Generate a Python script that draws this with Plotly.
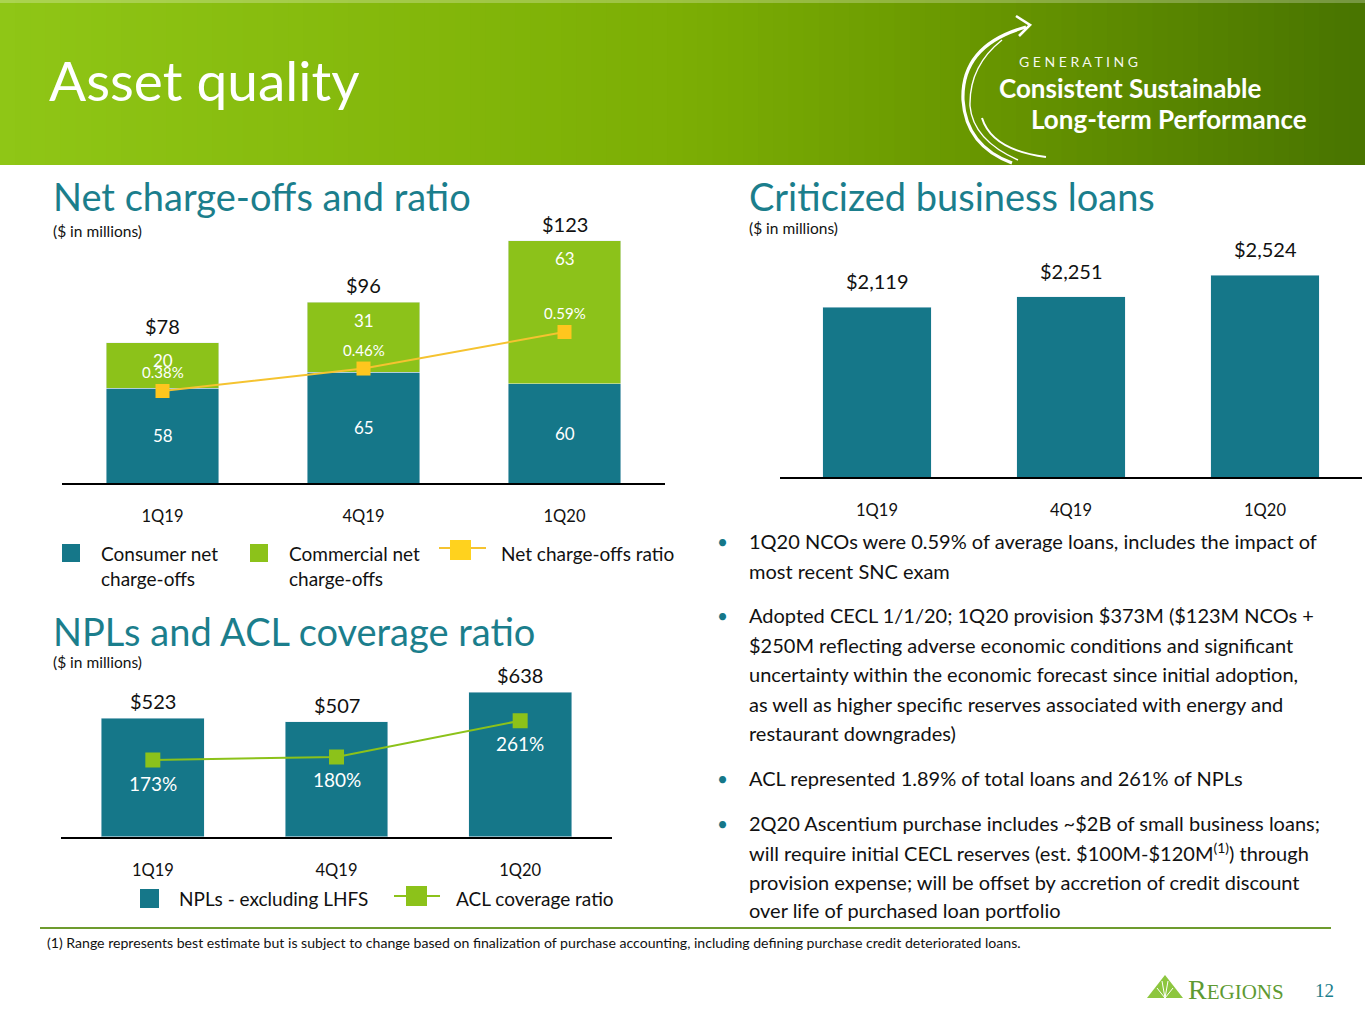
import plotly.graph_objects as go

W, H = 1365, 1024

# --- DATA ---
QUARTERS = ["1Q19", "4Q19", "1Q20"]
consumer_nco = [58, 65, 60]
commercial_nco = [20, 31, 63]
total_nco = [78, 96, 123]
nco_ratio = [0.38, 0.46, 0.59]
criticized_loans = [2119, 2251, 2524]
npls_ex_lhfs = [523, 507, 638]
acl_coverage = [173, 180, 261]

BULLETS = [
    ["1Q20 NCOs were 0.59% of average loans, includes the impact of",
     "most recent SNC exam"],
    ["Adopted CECL 1/1/20; 1Q20 provision $373M ($123M NCOs +",
     "$250M reflecting adverse economic conditions and significant",
     "uncertainty within the economic forecast since initial adoption,",
     "as well as higher specific reserves associated with energy and",
     "restaurant downgrades)"],
    ["ACL represented 1.89% of total loans and 261% of NPLs"],
    ["2Q20 Ascentium purchase includes ~$2B of small business loans;",
     "will require initial CECL reserves (est. $100M-$120M<sup>(1)</sup>) through",
     "provision expense; will be offset by accretion of credit discount",
     "over life of purchased loan portfolio"],
]
FOOTNOTE = ("(1) Range represents best estimate but is subject to change based on "
            "finalization of purchase accounting, including defining purchase credit deteriorated loans.")

# --- STYLE ---
TEAL = "#157789"
LIME = "#8CC21A"
YELLOW = "#FFC61E"
TITLE_TEAL = "#1B7E8C"
FONT = "Lato"
SERIF = "Liberation Serif"


def px(x):
    return x / W


def py(y):
    return 1 - y / H


def path(points, close=False):
    # points in pixel coords: ("M", x, y) / ("L", x, y) / ("Q", cx, cy, x, y)
    out = []
    for p in points:
        cmd, vals = p[0], p[1:]
        coords = []
        for i in range(0, len(vals), 2):
            coords.append(f"{px(vals[i]):.5f},{py(vals[i + 1]):.5f}")
        out.append(cmd + " " + " ".join(coords))
    s = " ".join(out)
    return s + " Z" if close else s


fig = go.Figure()

# --- 1. Net charge-offs ---
fig.add_trace(go.Bar(x=QUARTERS, y=consumer_nco, marker_color=TEAL, width=0.56,
                     xaxis="x", yaxis="y", showlegend=False, hoverinfo="skip"))
fig.add_trace(go.Bar(x=QUARTERS, y=commercial_nco, marker_color=LIME, width=0.56,
                     xaxis="x", yaxis="y", showlegend=False, hoverinfo="skip"))
fig.add_trace(go.Scatter(x=QUARTERS, y=nco_ratio, mode="lines+markers",
                         line=dict(color="#F5C330", width=2),
                         marker=dict(symbol="square", size=14, color=YELLOW),
                         xaxis="x", yaxis="y2", showlegend=False, hoverinfo="skip"))

# --- 2. Criticized business loans ---
fig.add_trace(go.Bar(x=QUARTERS, y=criticized_loans, marker_color=TEAL, width=0.56,
                     xaxis="x2", yaxis="y3", showlegend=False, hoverinfo="skip"))

# --- 3. NPLs and ACL coverage ---
fig.add_trace(go.Bar(x=QUARTERS, y=npls_ex_lhfs, marker_color=TEAL, width=0.56,
                     xaxis="x3", yaxis="y4", showlegend=False, hoverinfo="skip"))
fig.add_trace(go.Scatter(x=QUARTERS, y=acl_coverage, mode="lines+markers",
                         line=dict(color=LIME, width=2),
                         marker=dict(symbol="square", size=15, color=LIME),
                         xaxis="x3", yaxis="y5", showlegend=False, hoverinfo="skip"))

cat_axis = dict(showline=True, linecolor="black", linewidth=2, showgrid=False,
                zeroline=False, ticks="outside", ticklen=17, tickcolor="rgba(0,0,0,0)",
                tickfont=dict(family=FONT, size=16.5, color="#111"), fixedrange=True)
val_axis = dict(visible=False, showgrid=False, zeroline=False, fixedrange=True)

YMIN1 = 16.2
annotations = []
shapes = []

# bar / line labels
for i, q in enumerate(QUARTERS):
    annotations.append(dict(x=q, y=total_nco[i], xref="x", yref="y", text=f"${total_nco[i]}",
                            showarrow=False, yshift=17, font=dict(size=20, color="#111")))
    annotations.append(dict(x=q, y=total_nco[i], xref="x", yref="y", text=str(commercial_nco[i]),
                            showarrow=False, yshift=-18, font=dict(size=17, color="white")))
    annotations.append(dict(x=q, y=(YMIN1 + consumer_nco[i]) / 2, xref="x", yref="y",
                            text=str(consumer_nco[i]), showarrow=False,
                            font=dict(size=17, color="white")))
    annotations.append(dict(x=q, y=nco_ratio[i], xref="x", yref="y2", text=f"{nco_ratio[i]:.2f}%",
                            showarrow=False, yshift=19, font=dict(size=15, color="white")))
    annotations.append(dict(x=q, y=criticized_loans[i], xref="x2", yref="y3",
                            text=f"${criticized_loans[i]:,}", showarrow=False, yshift=26,
                            font=dict(size=20, color="#111")))
    annotations.append(dict(x=q, y=npls_ex_lhfs[i], xref="x3", yref="y4", text=f"${npls_ex_lhfs[i]}",
                            showarrow=False, yshift=17, font=dict(size=20, color="#111")))
    annotations.append(dict(x=q, y=acl_coverage[i], xref="x3", yref="y5", text=f"{acl_coverage[i]}%",
                            showarrow=False, yshift=-23, font=dict(size=19, color="white")))


def text(x, y, s, size, color="#111", anchor="left", family=FONT, **kw):
    annotations.append(dict(x=px(x), y=py(y), xref="paper", yref="paper", text=s,
                            showarrow=False, xanchor=anchor, yanchor="middle",
                            font=dict(family=family, size=size, color=color), **kw))


def rect(x0, y0, x1, y1, color, layer="above"):
    shapes.append(dict(type="rect", xref="paper", yref="paper", x0=px(x0), x1=px(x1),
                       y0=py(y1), y1=py(y0), fillcolor=color, line=dict(width=0), layer=layer))


# header gradient
stops = [(0.0, (143, 198, 22)), (0.5, (124, 174, 4)), (0.72, (104, 150, 0)), (1.0, (72, 116, 0))]
N = 90
for k in range(N):
    t = (k + 0.5) / N
    for (a, ca), (b, cb) in zip(stops[:-1], stops[1:]):
        if a <= t <= b:
            f = (t - a) / (b - a)
            c = tuple(round(ca[j] + (cb[j] - ca[j]) * f) for j in range(3))
            break
    rect(W * k / N, 0, W * (k + 1) / N + 1, 165, f"rgb{c}", layer="below")
rect(0, 0, W, 3, "rgba(255,255,255,0.25)", layer="below")

text(47, 80, "Asset quality", 55, "white")

# header logo
swoosh = [
    ([("M", 1026, 27), ("Q", 961, 45, 963, 100), ("Q", 966, 146, 1012, 163)], 3.2),
    ([("M", 1002, 40), ("Q", 969, 66, 970, 106), ("Q", 973, 140, 1018, 160)], 1.4),
    ([("M", 982, 118), ("Q", 992, 150, 1046, 157)], 2.0),
    ([("M", 1016, 16), ("L", 1030, 25), ("L", 1019, 36)], 2.6),
]
for pts, w in swoosh:
    shapes.append(dict(type="path", xref="paper", yref="paper", path=path(pts),
                       line=dict(color="white", width=w)))
text(1017, 61, "G E N E R A T I N G", 14, "rgba(255,255,255,0.95)")
text(997, 88, "<b>Consistent Sustainable</b>", 26, "white")
text(1029, 119, "<b>Long-term Performance</b>", 26, "white")

# section titles
text(51, 196, "Net charge-offs and ratio", 38, TITLE_TEAL)
text(51, 231, "($ in millions)", 15.5)
text(747, 196, "Criticized business loans", 38, TITLE_TEAL)
text(747, 228, "($ in millions)", 15.5)
text(51, 631, "NPLs and ACL coverage ratio", 38, TITLE_TEAL)
text(51, 662, "($ in millions)", 15.5)

# legend 1
rect(62, 544, 80, 562, TEAL)
text(99, 553, "Consumer net", 19)
text(99, 578, "charge-offs", 19)
rect(250, 544, 268, 562, LIME)
text(287, 553, "Commercial net", 19)
text(287, 578, "charge-offs", 19)
shapes.append(dict(type="line", xref="paper", yref="paper", x0=px(439), x1=px(486),
                   y0=py(548), y1=py(548), line=dict(color="#F5C330", width=2)))
rect(450, 540, 471, 560, "#FFD21E")
text(499, 553, "Net charge-offs ratio", 19)

# legend 3
rect(140, 889, 159, 908, TEAL)
text(177, 898, "NPLs - excluding LHFS", 19)
shapes.append(dict(type="line", xref="paper", yref="paper", x0=px(394), x1=px(440),
                   y0=py(896), y1=py(896), line=dict(color=LIME, width=2)))
rect(406, 886, 427, 906, LIME)
text(454, 898, "ACL coverage ratio", 19)

# bullets
line_y = [[541, 571], [615, 645, 674, 704, 733], [778], [823, 852, 882, 910]]
for lines, ys in zip(BULLETS, line_y):
    text(715, ys[0], "•", 19, TEAL)
    for s, y in zip(lines, ys):
        text(747, y, s, 20)

# footer
shapes.append(dict(type="line", xref="paper", yref="paper", x0=px(40), x1=px(1331),
                   y0=py(928), y1=py(928), line=dict(color="#6E9B2E", width=2)))
text(45, 942, FOOTNOTE, 14.1)

shapes.append(dict(type="path", xref="paper", yref="paper",
                   path=path([("M", 1147, 998), ("L", 1165, 975), ("L", 1183, 998)], close=True),
                   fillcolor="#8DC63F", line=dict(width=0)))
for tx, ty in [(1157, 988), (1162, 981), (1168, 981), (1173, 988)]:
    shapes.append(dict(type="line", xref="paper", yref="paper", x0=px(1165), y0=py(998),
                       x1=px(tx), y1=py(ty), line=dict(color="white", width=1)))
text(1186, 989, "R<span style='font-size:21px'>EGIONS</span>", 28, "#5E9A32", family=SERIF)
text(1313, 990, "12", 19, TITLE_TEAL, family=SERIF)

fig.update_layout(
    width=W, height=H, margin=dict(l=0, r=0, t=0, b=0),
    paper_bgcolor="white", plot_bgcolor="rgba(0,0,0,0)",
    barmode="stack", showlegend=False,
    font=dict(family=FONT, color="#111"),
    xaxis=dict(cat_axis, domain=[px(62), px(665)], anchor="y", range=[-0.5, 2.5]),
    yaxis=dict(val_axis, domain=[py(483), py(230)], anchor="x", range=[YMIN1, YMIN1 + 253 / 2.267]),
    yaxis2=dict(val_axis, overlaying="y", anchor="x", range=[0.0526, 0.953]),
    xaxis2=dict(cat_axis, domain=[px(780), px(1362)], anchor="y3", range=[-0.5, 2.5]),
    yaxis3=dict(val_axis, domain=[py(477), py(230)], anchor="x2", range=[0, 3087]),
    xaxis3=dict(cat_axis, domain=[px(61), px(612)], anchor="y4", range=[-0.5, 2.5]),
    yaxis4=dict(val_axis, domain=[py(836.7), py(680)], anchor="x3", range=[0, 692.4]),
    yaxis5=dict(val_axis, overlaying="y4", anchor="x3", range=[1.3, 352.2]),
    annotations=annotations, shapes=shapes,
)

# drop the browser's default body margin so the slide sits at the page origin
fig.write_html("out.html", config={"displayModeBar": False},
               post_script="document.body.style.margin='0';")
